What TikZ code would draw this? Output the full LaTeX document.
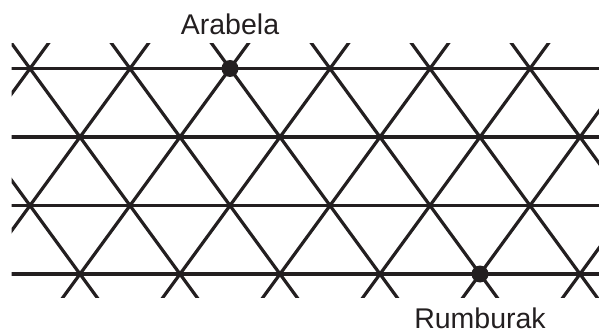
\documentclass[tikz,border=0pt]{standalone}
\usepackage{fontspec}
\setmainfont{Liberation Sans}
\usetikzlibrary{positioning}
\definecolor{ink}{HTML}{231F20}

\begin{document}
\begin{tikzpicture}[x=1pt, y=1pt, line width=3.2pt, draw=ink, on grid, node distance=34pt,
    dot/.style={circle, fill=ink, inner sep=0pt, minimum size=17pt},
    tag/.style={font=\fontsize{28.5}{30}\selectfont, text=ink, inner sep=0pt}]
    \useasboundingbox (0,0) rectangle (599,332);
    \begin{scope}
        \clip (11.5,35) rectangle (599,288);
        \foreach \y in {58,126.5,195,263.5}
            \draw (0,\y) -- (599,\y);
        \foreach \k in {-1,...,8} {
            \draw (\k*100-162.3,0) -- ++(250,342.5);
            \draw (\k*100+22.3,0) -- ++(-250,342.5);
        }
    \end{scope}
    \node[dot] (arabela) at (230,263.5) {};
    \node[dot] (rumburak) at (480,58) {};
    \node[tag, above=of arabela, anchor=base] (arabelaname) {Arabela};
    \node[tag, below=54pt of rumburak, anchor=base] (rumburakname) {Rumburak};
\end{tikzpicture}
\end{document}
